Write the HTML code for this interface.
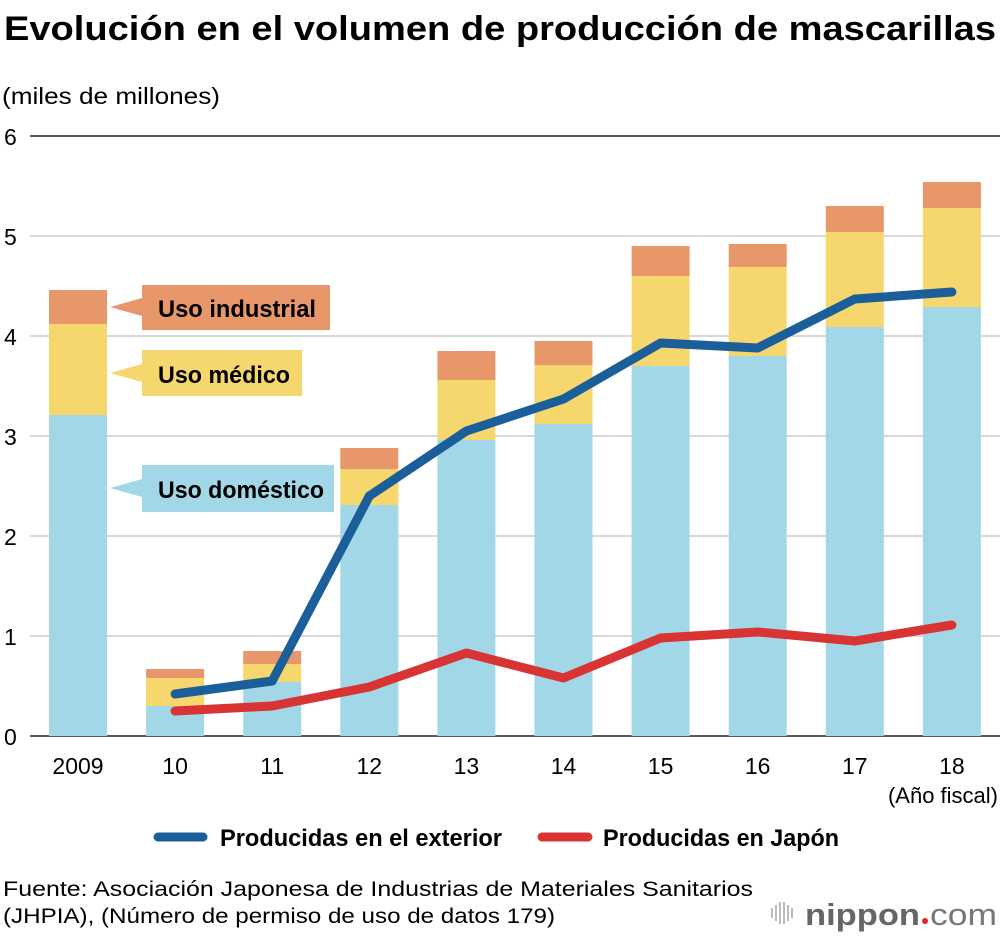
<!DOCTYPE html>
<html><head><meta charset="utf-8"><style>
html,body{margin:0;padding:0;background:#fff;width:1000px;height:936px;overflow:hidden}
svg{display:block;font-family:"Liberation Sans",sans-serif}
</style></head><body>
<svg id="chart" width="1000" height="936" viewBox="0 0 1000 936">
<text x="4" y="40" font-size="34" font-weight="bold" textLength="992" lengthAdjust="spacingAndGlyphs">Evolución en el volumen de producción de mascarillas</text>
<text x="2" y="104" font-size="23" textLength="218" lengthAdjust="spacingAndGlyphs">(miles de millones)</text>
<g id="grid"></g>
<g id="bars"></g>
<g id="callouts">
 <polygon points="110,307 142,298 142,316" fill="#e8976a"/>
 <rect x="142" y="285" width="188" height="45" fill="#e8976a"/>
 <text x="158" y="317" font-size="24" font-weight="bold" textLength="158" lengthAdjust="spacingAndGlyphs">Uso industrial</text>
 <polygon points="110,373 142,364 142,382" fill="#f5d76e"/>
 <rect x="142" y="350" width="160" height="46" fill="#f5d76e"/>
 <text x="158" y="383" font-size="24" font-weight="bold" textLength="132" lengthAdjust="spacingAndGlyphs">Uso médico</text>
 <polygon points="110,488 142,479 142,497" fill="#a2d7e8"/>
 <rect x="142" y="465" width="192" height="47" fill="#a2d7e8"/>
 <text x="158" y="498" font-size="24" font-weight="bold" textLength="166" lengthAdjust="spacingAndGlyphs">Uso doméstico</text>
</g>
<g id="lines"></g>
<g id="xlabels"></g>
<text x="998" y="803" font-size="22" text-anchor="end">(Año fiscal)</text>
<g>
 <line x1="158" y1="837" x2="203" y2="837" stroke="#1a5f9a" stroke-width="9" stroke-linecap="round"/>
 <text x="220" y="846" font-size="24" font-weight="bold" textLength="282" lengthAdjust="spacingAndGlyphs">Producidas en el exterior</text>
 <line x1="542" y1="837" x2="588" y2="837" stroke="#d93434" stroke-width="9" stroke-linecap="round"/>
 <text x="603" y="846" font-size="24" font-weight="bold" textLength="236" lengthAdjust="spacingAndGlyphs">Producidas en Japón</text>
</g>
<text x="3" y="896" font-size="21" textLength="750" lengthAdjust="spacingAndGlyphs">Fuente: Asociación Japonesa de Industrias de Materiales Sanitarios</text>
<text x="3" y="923" font-size="21" textLength="552" lengthAdjust="spacingAndGlyphs">(JHPIA), (Número de permiso de uso de datos 179)</text>
<g>
 <g stroke="#bbb" stroke-width="2">
  <line x1="772" y1="908" x2="772" y2="918"/><line x1="776" y1="905" x2="776" y2="921"/><line x1="780" y1="902" x2="780" y2="924"/><line x1="784" y1="902" x2="784" y2="924"/><line x1="788" y1="905" x2="788" y2="921"/><line x1="792" y1="908" x2="792" y2="918"/>
 </g>
 <text x="805" y="925" font-size="31" fill="#666" font-weight="bold" textLength="115" lengthAdjust="spacingAndGlyphs">nippon</text>
 <circle cx="925" cy="921" r="3" fill="#e62222"/>
 <text x="930" y="925" font-size="31" fill="#777" textLength="67" lengthAdjust="spacingAndGlyphs">com</text>
</g>
</svg>
<script>
const categories=["2009","10","11","12","13","14","15","16","17","18"];
const domestic=[3.21,0.30,0.54,2.31,2.96,3.12,3.70,3.80,4.09,4.29];
const medical=[0.91,0.28,0.18,0.36,0.60,0.59,0.90,0.89,0.95,0.99];
const industrial=[0.34,0.09,0.13,0.21,0.29,0.24,0.30,0.23,0.26,0.26];
const exterior=[null,0.42,0.55,2.40,3.05,3.37,3.93,3.88,4.37,4.44];
const japan=[null,0.25,0.30,0.49,0.83,0.58,0.98,1.04,0.95,1.11];
const yTicks=[0,1,2,3,4,5,6];
const NS="http://www.w3.org/2000/svg";
function y(v){return 736-v*100;}
function x(i){return 78+i*97.1;}
function mk(tag,attrs,parent){const e=document.createElementNS(NS,tag);for(const k in attrs)e.setAttribute(k,attrs[k]);parent.appendChild(e);return e;}
const grid=document.getElementById('grid');
yTicks.forEach(t=>{
 const l=mk('line',{x1:30,x2:1000,y1:y(t),y2:y(t),stroke:t===6||t===0?'#222':'#ccc','stroke-width':t===6||t===0?1.5:1.5},grid);
 
 
 const tx=mk('text',{x:4,y:y(t)+9,'font-size':23},grid);tx.textContent=t;
 
 
});
const bars=document.getElementById('bars');
const bw=58;
categories.forEach((c,i)=>{
 let base=0;
 [[domestic,'#a2d7e8','domestic'],[medical,'#f5d76e','medical'],[industrial,'#e8976a','industrial']].forEach(([arr,col,nm])=>{
  const r=mk('rect',{x:x(i)-bw/2,y:y(base+arr[i]),width:bw,height:arr[i]*100,fill:col},bars);
  
  
  base+=arr[i];
 });
 const t=mk('text',{x:x(i),y:774,'font-size':23,'text-anchor':'middle'},document.getElementById('xlabels'));
 t.textContent=c;
 
 
});
const lines=document.getElementById('lines');
[[japan,'#d93434','line-japan'],[exterior,'#1a5f9a','line-exterior']].forEach(([arr,col,nm])=>{
 const pts=arr.map((v,i)=>v==null?null:x(i)+','+y(v)).filter(p=>p).join(' ');
 const p=mk('polyline',{points:pts,fill:'none',stroke:col,'stroke-width':9,'stroke-linecap':'round','stroke-linejoin':'round'},lines);
 
 
});
</script>
</body></html>
